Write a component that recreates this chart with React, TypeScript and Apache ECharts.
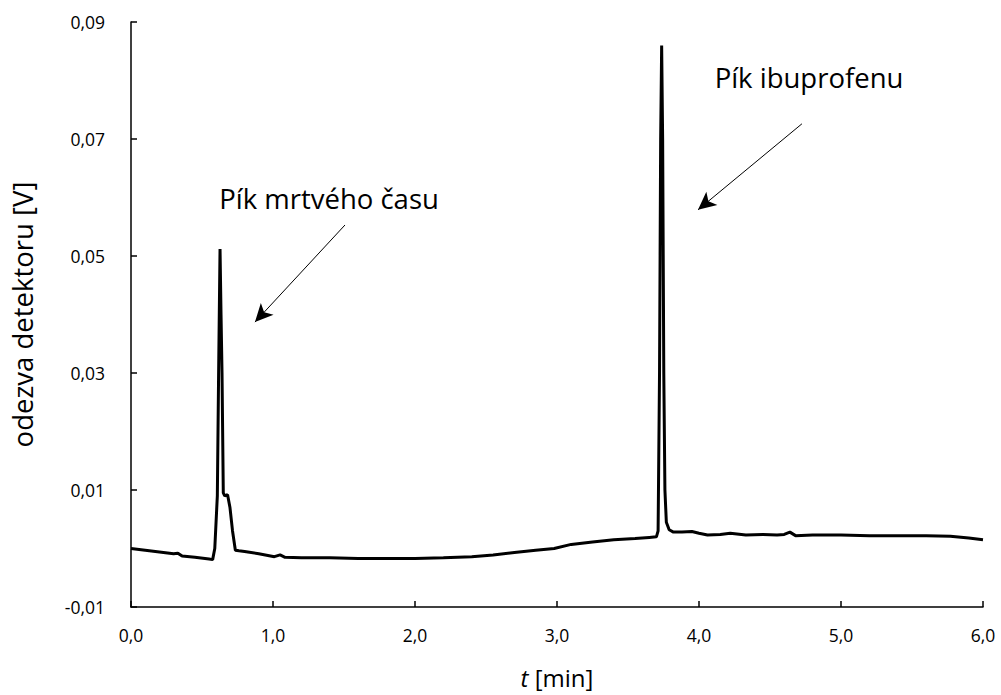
import React, { useEffect, useRef } from "react";
import * as echarts from "echarts";

// Retention time [min] and detector response [V] of the chromatogram trace
const timeMin: number[] = [
  0.0, 0.1, 0.2, 0.3, 0.33, 0.36, 0.45, 0.55, 0.575,
  0.59, 0.608, 0.617, 0.627, 0.634, 0.641, 0.65, 0.66, 0.68, 0.697, 0.715, 0.735, 0.76,
  0.8, 0.9, 1.01, 1.05, 1.085, 1.2, 1.4, 1.6, 1.8, 2.0, 2.2, 2.4, 2.55, 2.7, 2.85, 2.98,
  3.1, 3.25, 3.4, 3.55, 3.65, 3.7,
  3.712, 3.722, 3.73, 3.737, 3.744, 3.752, 3.76, 3.77, 3.79,
  3.82, 3.88, 3.95, 4.0, 4.06, 4.15, 4.22, 4.33, 4.45, 4.55, 4.6, 4.64, 4.68,
  4.8, 5.0, 5.2, 5.4, 5.6, 5.77, 5.9, 6.0,
];
const responseV: number[] = [
  0.0, -0.0003, -0.0006, -0.0009, -0.0008, -0.0013, -0.0015, -0.0018, -0.0019,
  0.0, 0.009, 0.03, 0.0512, 0.04, 0.03, 0.0095, 0.009, 0.0092, 0.007, 0.003, -0.0003, -0.0004,
  -0.0005, -0.0009, -0.0014, -0.0011, -0.0015, -0.0016, -0.0016, -0.0017, -0.0017, -0.0017, -0.0016, -0.0014, -0.0011, -0.0007, -0.0003, 0.0,
  0.0007, 0.0011, 0.0015, 0.0017, 0.0019, 0.002,
  0.003, 0.03, 0.07, 0.086, 0.07, 0.03, 0.01, 0.0045, 0.0032,
  0.0028, 0.0028, 0.0029, 0.0026, 0.0023, 0.0024, 0.0026, 0.0023, 0.0024, 0.0023, 0.0024, 0.0028, 0.0022,
  0.0023, 0.0023, 0.0022, 0.0022, 0.0022, 0.0021, 0.0018, 0.0015,
];

// Annotation arrows: [start, end] in data coordinates [t, V]
const deadTimeArrow: [number, number][] = [[1.507, 0.0553], [0.873, 0.0387]];
const ibuprofenArrow: [number, number][] = [[4.725, 0.0726], [3.993, 0.0579]];

const annotations = [
  { text: "Pík mrtvého času", x: 329, y: 198 },
  { text: "Pík ibuprofenu", x: 809, y: 77 },
];

const FONT = "'Open Sans', sans-serif";
const comma = (v: number, d: number) => v.toFixed(d).replace(".", ",");

export default function App() {
  const ref = useRef<HTMLDivElement>(null);

  useEffect(() => {
    if (!ref.current) return;
    document.body.style.margin = "0";
    const chart = echarts.init(ref.current, undefined, { renderer: "svg" });
    const arrowLine = (pts: [number, number][]) => [
      { coord: pts[0], symbol: "none" },
      { coord: pts[1], symbol: "arrow" },
    ];
    chart.setOption({
      animation: false,
      backgroundColor: "#ffffff",
      textStyle: { fontFamily: FONT },
      grid: { left: 131, right: 18, top: 22, bottom: 88, containLabel: false },
      xAxis: {
        type: "value",
        min: 0,
        max: 6,
        interval: 1,
        splitLine: { show: false },
        axisLine: { onZero: false, lineStyle: { color: "#000", width: 1.5 } },
        axisTick: { inside: true, length: 6, lineStyle: { color: "#000", width: 1.5 } },
        axisLabel: { color: "#000", fontSize: 17.5, margin: 19, fontFamily: FONT, formatter: (v: number) => comma(v, 1) },
        name: "{i|t} [min]",
        nameLocation: "middle",
        nameGap: 58,
        nameTextStyle: {
          color: "#000",
          fontSize: 24,
          fontFamily: FONT,
          rich: { i: { fontStyle: "italic", fontSize: 24, color: "#000", fontFamily: FONT } },
        },
      },
      yAxis: {
        type: "value",
        min: -0.01,
        max: 0.09,
        interval: 0.02,
        splitLine: { show: false },
        axisLine: { show: true, lineStyle: { color: "#000", width: 1.5 } },
        axisTick: { show: true, inside: true, length: 6, lineStyle: { color: "#000", width: 1.5 } },
        axisLabel: { color: "#000", fontSize: 17.5, margin: 26, fontFamily: FONT, formatter: (v: number) => comma(v, 2) },
        name: "odezva detektoru [V]",
        nameLocation: "middle",
        nameGap: 95,
        nameTextStyle: { color: "#000", fontSize: 27.5, fontFamily: FONT },
      },
      graphic: annotations.map((a) => ({
        type: "text",
        x: a.x,
        y: a.y,
        style: { text: a.text, fontSize: 27.5, fontFamily: FONT, fill: "#000", textAlign: "center", textVerticalAlign: "middle" },
      })),
      series: [
        {
          type: "line",
          data: timeMin.map((t, i) => [t, responseV[i]]),
          showSymbol: false,
          lineStyle: { color: "#000", width: 3 },
          markLine: {
            silent: true,
            symbolSize: [13, 18],
            label: { show: false },
            lineStyle: { color: "#000", width: 1, type: "solid" },
            data: [arrowLine(deadTimeArrow), arrowLine(ibuprofenArrow)],
          },
        },
      ],
    });
    return () => chart.dispose();
  }, []);

  return <div ref={ref} style={{ position: "fixed", left: 0, top: 0, width: 1001, height: 695 }} />;
}
